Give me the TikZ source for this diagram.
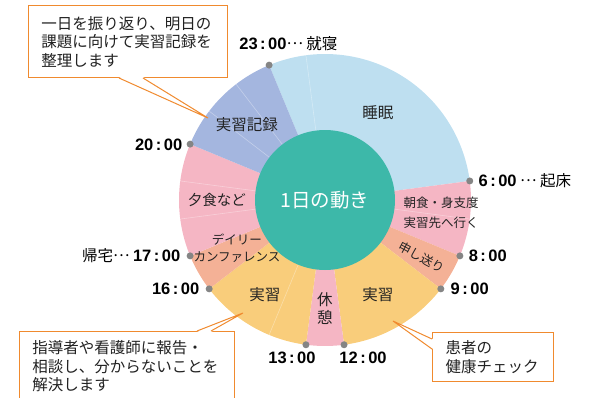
\documentclass[tikz,border=0pt]{standalone}
\usepackage{fontspec}
\setmainfont{Noto Sans CJK JP}
\newfontfamily\timefont{Liberation Sans}
\usetikzlibrary{positioning}

\definecolor{sleepblue}{HTML}{BEDFF0}
\definecolor{mealpink}{HTML}{F5B6C4}
\definecolor{meetsalmon}{HTML}{F4B196}
\definecolor{workyellow}{HTML}{F9CD7B}
\definecolor{recordblue}{HTML}{A4B6DF}
\definecolor{centerteal}{HTML}{3DB8A9}
\definecolor{memoorange}{HTML}{F08A2E}
\definecolor{dotgray}{HTML}{858585}
\definecolor{textdark}{HTML}{222222}

\newcommand{\hhmm}[2]{{\timefont\bfseries\fontsize{16.5}{16.5}\selectfont #1\kern2.5pt:\kern2.5pt#2}}
\newcommand{\middots}{\raisebox{5pt}{…}}

\tikzstyle{hourdot} = [circle, fill=dotgray, inner sep=0pt, minimum size=7pt]
\tikzstyle{timelabel} = [inner sep=0pt, text height=12pt, text depth=0pt, text=black, font=\fontsize{15.5}{15.5}\selectfont]
\tikzstyle{slicelabel} = [align=center, text=textdark, font=\fontsize{15.5}{19}\selectfont]
\tikzstyle{memo} = [rectangle, draw=memoorange, fill=white, line width=1pt, align=left, inner xsep=13pt, text=textdark, font=\fontsize{15.5}{18.5}\selectfont]
\tikzstyle{memotail} = [draw=memoorange, line width=1pt]

\begin{document}
\begin{tikzpicture}[x=1pt, y=1pt]
        \tikzset{node distance = 5pt}
        \clip (-325,-197) rectangle (283,200);
        % slices of the day, hour h sits at angle 457.5-15h
        \foreach \from/\to/\col in {23/30/sleepblue, 6/8/mealpink, 8/9/meetsalmon, 9/12/workyellow, 12/13/mealpink, 13/16/workyellow, 16/17/meetsalmon, 17/20/mealpink, 20/23/recordblue}
            \fill[\col] (0,0) -- ({457.5-15*\from}:146) arc[start angle={457.5-15*\from}, end angle={457.5-15*\to}, radius=146] -- cycle;
        \foreach \h in {0,7,14,18,19,21,22}
            \draw[white, opacity=0.35, line width=0.6pt] (0,0) -- ({457.5-15*\h}:146);
        % centre
        \node[circle, fill=centerteal, minimum size=140pt, inner sep=0pt, text=white, font=\fontsize{19.5}{19.5}\selectfont] (today) at (0,0) {1日の動き};
        % what happens in each slice
        \node[slicelabel] (sleep) at (53,87) {睡眠};
        \node[slicelabel] (record) at (-78,75) {実習記録};
        \node[slicelabel, font=\fontsize{14.5}{19}\selectfont] (dinner) at (-108,0) {夕食など};
        \node[slicelabel, font=\fontsize{12.5}{17}\selectfont] (conf) at (-88,-48) {デイリー\\カンファレンス};
        \node[slicelabel] (workpm) at (-60,-95) {実習};
        \node[slicelabel, font=\fontsize{15.5}{18}\selectfont] (rest) at (0,-109) {休\\憩};
        \node[slicelabel] (workam) at (53,-95) {実習};
        \node[slicelabel, font=\fontsize{12.5}{12.5}\selectfont, rotate=-28] (handover) at (97,-57) {申し送り};
        \node[slicelabel, font=\fontsize{12.5}{20}\selectfont] (morning) at (116,-13) {朝食・身支度\\実習先へ行く};
        % time marks
        \foreach \h/\name in {23/t23, 6/t6, 8/t8, 9/t9, 12/t12, 13/t13, 16/t16, 17/t17, 20/t20}
            \node[hourdot] (\name) at ({457.5-15*\h}:146) {};
        \node[timelabel, right=of t6] (l6) {\hhmm{6}{00} \middots\ 起床};
        \node[timelabel, right=of t8] (l8) {\hhmm{8}{00}};
        \node[timelabel, right=6pt of t9] (l9) {\hhmm{9}{00}};
        \node[timelabel, left=6pt of t16] (l16) {\hhmm{16}{00}};
        \node[timelabel, left=6pt of t17] (l17) {帰宅\middots\ \hhmm{17}{00}};
        \node[timelabel, left=4pt of t20] (l20) {\hhmm{20}{00}};
        \node[timelabel, anchor=south west] (l23) at ([shift={(-30pt,15pt)}]t23) {\hhmm{23}{00}\middots\ 就寝};
        \node[timelabel] (l12) at ([shift={(19pt,-13pt)}]t12) {\hhmm{12}{00}};
        \node[timelabel] (l13) at ([shift={(-14pt,-13pt)}]t13) {\hhmm{13}{00}};
        % callouts
        \node[memo, anchor=north west, text width=173pt, minimum height=72pt] (memo1) at (-297,195) {一日を振り返り、明日の\\課題に向けて実習記録を\\整理します};
        \coordinate (tip1) at (-117,82);
        \fill[white] ([shift={(-109pt,1pt)}]memo1.south east) -- (tip1) -- ([shift={(-85pt,1pt)}]memo1.south east) -- cycle;
        \draw[memotail] ([xshift=-109pt]memo1.south east) -- (tip1) -- ([xshift=-85pt]memo1.south east);
        \node[memo, anchor=north west, text width=189pt, minimum height=70pt] (memo2) at (-306,-131) {指導者や看護師に報告・\\相談し、分からないことを\\解決します};
        \coordinate (tip2) at (-82,-113);
        \fill[white] ([shift={(178pt,-1pt)}]memo2.north west) -- (tip2) -- ([shift={(192pt,-1pt)}]memo2.north west) -- cycle;
        \draw[memotail] ([xshift=178pt]memo2.north west) -- (tip2) -- ([xshift=192pt]memo2.north west);
        \node[memo, anchor=north west, text width=95pt, minimum height=49pt] (memo3) at (107,-132) {患者の\\健康チェック};
        \coordinate (tip3) at (68,-121);
        \fill[white] ([shift={(1pt,-7pt)}]memo3.north west) -- (tip3) -- ([shift={(1pt,-17pt)}]memo3.north west) -- cycle;
        \draw[memotail] ([yshift=-7pt]memo3.north west) -- (tip3) -- ([yshift=-17pt]memo3.north west);
    \end{tikzpicture}
\end{document}
